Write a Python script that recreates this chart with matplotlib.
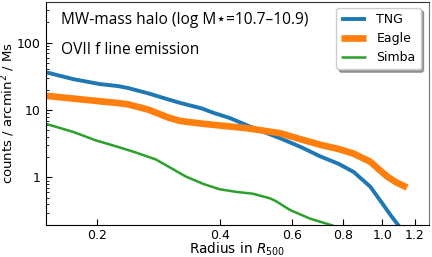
import matplotlib
matplotlib.use("Agg")
import matplotlib.pyplot as plt
from matplotlib.ticker import FixedLocator, FixedFormatter, NullLocator, LogLocator, NullFormatter

tng_r = [0.15, 0.175, 0.2034, 0.225, 0.238, 0.268, 0.300, 0.3195, 0.3609, 0.386, 0.4236,
         0.4826, 0.5618, 0.63, 0.704, 0.78, 0.85, 0.934, 1.006, 1.05, 1.095, 1.12]
tng_v = [36.4, 28.8, 24.3, 22.7, 21.3, 17.6, 14.3, 12.8, 10.6, 9.1, 7.6,
         5.44, 3.82, 2.85, 2.06, 1.6, 1.21, 0.73, 0.39, 0.27, 0.194, 0.16]

eagle_r = [0.15, 0.175, 0.2034, 0.22, 0.238, 0.268, 0.300, 0.3195, 0.361, 0.386, 0.466,
           0.5618, 0.63, 0.704, 0.78, 0.85, 0.934, 0.98, 1.026, 1.08, 1.149]
eagle_v = [16.3, 14.8, 13.5, 12.9, 12.2, 10.1, 7.7, 6.9, 6.3, 6.04, 5.38,
           4.54, 3.7, 3.06, 2.65, 2.26, 1.71, 1.32, 1.04, 0.85, 0.71]

simba_r = [0.15, 0.175, 0.1989, 0.225, 0.249, 0.279, 0.305, 0.3305, 0.365, 0.399, 0.44,
           0.4817, 0.531, 0.549, 0.594, 0.6655, 0.745, 0.8]
simba_v = [6.25, 4.75, 3.55, 2.85, 2.35, 1.85, 1.36, 1.03, 0.8, 0.67, 0.61,
           0.575, 0.49, 0.445, 0.33, 0.245, 0.199, 0.17]

xticks = [0.2, 0.4, 0.6, 0.8, 1.0, 1.2]
xticklabels = ["0.2", "0.4", "0.6", "0.8", "1.0", "1.2"]
yticks = [1, 10, 100]
yticklabels = ["1", "10", "100"]

fig = plt.figure(figsize=(4.32, 2.57), dpi=100)
ax = fig.add_axes([0.106, 0.126, 0.887, 0.866])

kw = dict(solid_joinstyle="round", solid_capstyle="butt")
ax.plot(tng_r, tng_v, color="#1f77b4", lw=2.8, label="TNG", **kw)
ax.plot(eagle_r, eagle_v, color="#ff7f0e", lw=4.8, label="Eagle", **kw)
ax.plot(simba_r, simba_v, color="#2ca02c", lw=1.8, label="Simba", **kw)

ax.set_xscale("log")
ax.set_yscale("log")
ax.set_xlim(0.15, 1.3)
ax.set_ylim(0.2, 400)

ax.xaxis.set_major_locator(FixedLocator(xticks))
ax.xaxis.set_major_formatter(FixedFormatter(xticklabels))
ax.xaxis.set_minor_locator(NullLocator())
ax.yaxis.set_major_locator(FixedLocator(yticks))
ax.yaxis.set_major_formatter(FixedFormatter(yticklabels))
ax.yaxis.set_minor_locator(LogLocator(base=10, subs=range(2, 10)))
ax.yaxis.set_minor_formatter(NullFormatter())
ax.tick_params(which="both", direction="in", labelsize=9)
ax.tick_params(which="major", length=4)
ax.tick_params(which="minor", length=2)

ax.spines["right"].set_color("0.45")
ax.spines["top"].set_color("0.2")

ax.set_xlabel("Radius in $R_{500}$", fontsize=9.8, labelpad=-1)
ax.set_ylabel("counts / arcmin$^2$ / Ms", fontsize=9.5, labelpad=0)

ax.text(0.04, 0.955, "MW-mass halo (log M\u22c6=10.7\u201310.9)", transform=ax.transAxes,
        fontsize=11.2, family=["Open Sans", "DejaVu Sans"], va="top", ha="left")
ax.text(0.04, 0.82, "OVII f line emission", transform=ax.transAxes,
        fontsize=11.2, family=["Open Sans", "DejaVu Sans"], va="top", ha="left")

leg = ax.legend(loc="upper right", fontsize=9, shadow=True, fancybox=True,
                bbox_to_anchor=(0.985, 0.985), borderaxespad=0.2, handlelength=2.0)

fig.savefig("out.png", dpi=100)
